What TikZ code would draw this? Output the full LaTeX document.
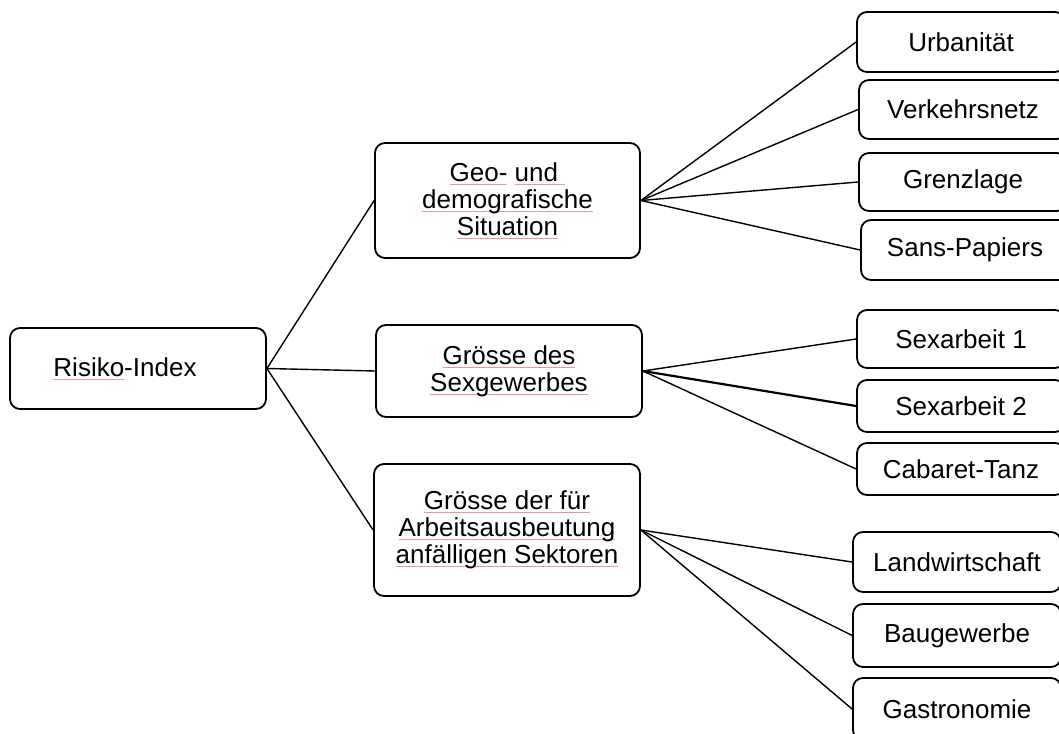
\documentclass[tikz,border=0pt]{standalone}
\usepackage{fontspec}
\setmainfont{Liberation Sans}
\definecolor{squigcol}{RGB}{240,150,150}
\newcommand{\squig}[1]{\setbox0\hbox{#1}\rlap{\color{squigcol}\rule[-3.5pt]{\wd0}{0.9pt}}\box0\relax}
\begin{document}
\begin{tikzpicture}[x=1pt,y=-1pt,
  box/.style={draw=black, line width=1.8pt, rounded corners=10pt, fill=white,
    align=center, inner sep=0pt, font=\fontsize{26}{27}\selectfont},
  conn/.style={draw=black, line width=1.4pt}]
\useasboundingbox (0,0) rectangle (1059,733);
\clip (0,0) rectangle (1059,733);
% level 0
\node[box, minimum width=256pt, minimum height=81pt] (risk) at (138,368.5) {\squig{Risiko}-Index\hspace*{26pt}};
% level 1
\node[box, minimum width=265pt, minimum height=115pt] (geo) at (507.5,200.5)
  {\squig{Geo-} \squig{und\ }\\\squig{demografische}\\\squig{Situation}};
\node[box, minimum width=266pt, minimum height=92pt] (sex) at (509,371)
  {\squig{Grösse des}\\\squig{Sexgewerbes}};
\node[box, minimum width=266pt, minimum height=132pt] (arb) at (507,530)
  {\squig{Grösse der für}\\\squig{Arbeitsausbeutung}\\\squig{anfälligen Sektoren}};
% level 2
\node[box, minimum width=208pt, minimum height=60pt] (u) at (961,42) {Urbanität};
\node[box, minimum width=208pt, minimum height=59pt] (v) at (963,109.5) {Verkehrsnetz};
\node[box, minimum width=208pt, minimum height=58pt] (g) at (963,182) {Grenzlage};
\node[box, minimum width=208pt, minimum height=60pt] (sp) at (965,250) {Sans-Papiers};
\node[box, minimum width=208pt, minimum height=58pt] (s1) at (961,339) {Sexarbeit 1};
\node[box, minimum width=208pt, minimum height=52pt] (s2) at (961,406) {Sexarbeit 2};
\node[box, minimum width=208pt, minimum height=52pt] (ct) at (961,469) {Cabaret-Tanz};
\node[box, minimum width=208pt, minimum height=60pt] (lw) at (957,562) {Landwirtschaft};
\node[box, minimum width=208pt, minimum height=63pt] (bg) at (957,635.5) {Baugewerbe};
\node[box, minimum width=208pt, minimum height=62pt] (ga) at (957,709) {Gastronomie};
% connectors
\draw[conn] (risk.east) -- (geo.west);
\draw[conn] (risk.east) -- (sex.west);
\draw[conn] (risk.east) -- (arb.west);
\draw[conn] (geo.east) -- (u.west);
\draw[conn] (geo.east) -- (v.west);
\draw[conn] (geo.east) -- (g.west);
\draw[conn] (geo.east) -- (sp.west);
\draw[conn] (sex.east) -- (s1.west);
\draw[conn, line width=2.2pt] (sex.east) -- (s2.west);
\draw[conn] (sex.east) -- (ct.west);
\draw[conn] (arb.east) -- (lw.west);
\draw[conn] (arb.east) -- (bg.west);
\draw[conn] (arb.east) -- (ga.west);
\end{tikzpicture}
\end{document}
